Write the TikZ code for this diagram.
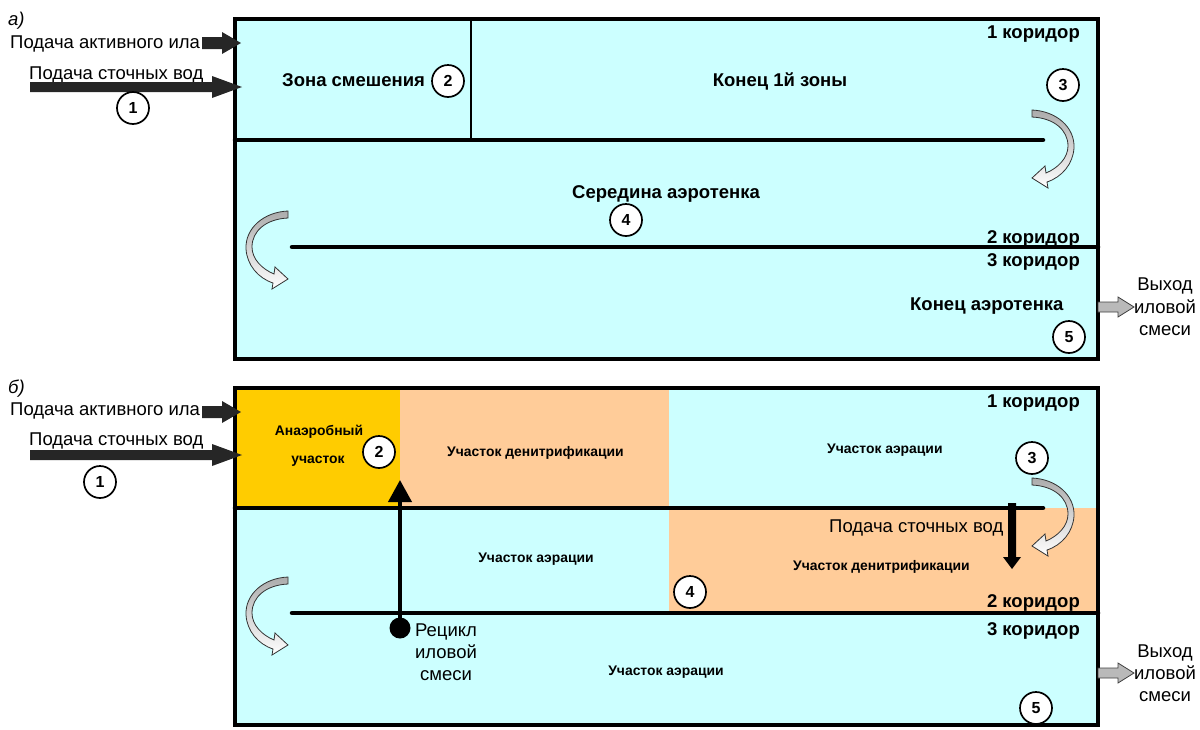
\documentclass[tikz,border=0pt]{standalone}
\usepackage{fontspec}
\setmainfont{Liberation Sans}
\usetikzlibrary{arrows.meta}
\definecolor{aqua}{HTML}{CCFFFF}
\definecolor{anaer}{HTML}{FFCC00}
\definecolor{denit}{HTML}{FFCC99}
\definecolor{dark}{HTML}{262626}
\tikzset{
 curv/.pic={
  \path[draw=black!80, line width=0.8pt, top color=gray!65, bottom color=white]
   (0,0) .. controls (24,1) and (43,17) .. (42,38)
   .. controls (41,54) and (30,67) .. (15,72)
   -- (16,78) -- (0,68) -- (13,56) -- (14,63)
   .. controls (26,58) and (36,48) .. (36,36)
   .. controls (36,20) and (22,8) .. (0,7) -- cycle;
 }
}
\begin{document}
\begin{tikzpicture}[x=1pt,y=-1pt,
 border/.style={line width=4.5pt},
 wall/.style={line width=4.5pt, line cap=round},
 divider/.style={line width=1.6pt},
 lbl/.style={font=\fontsize{18.5}{22}\selectfont, inner sep=0},
 blbl/.style={font=\bfseries\fontsize{18.5}{22}\selectfont, inner sep=0},
 slbl/.style={font=\bfseries\fontsize{13.9}{16}\selectfont, inner sep=0},
 num/.style={circle, draw, line width=1.7pt, fill=white, minimum size=32pt, inner sep=0pt, font=\bfseries\fontsize{16}{16}\selectfont},
 feed/.style={fill=dark},
 outlet/.style={fill=gray!55, draw=black!75, line width=0.8pt}
]
\useasboundingbox (0,0) rectangle (1200,729);

% ================= panel a =================
\fill[aqua] (235,19) rectangle (1098,359);
\draw[divider] (471,19) -- (471,140);
\draw[wall] (235,140) -- (1043,140);
\draw[wall] (292,247) -- (1098,247);
\draw[border] (235,19) rectangle (1098,359);

\node[lbl, anchor=base west, font=\itshape\fontsize{18.5}{22}\selectfont] (la) at (8,25) {а)};
\node[lbl, anchor=base west] (ilaA) at (10,48) {Подача активного ила};
\node[lbl, anchor=base west] (wwA) at (29,79) {Подача сточных вод};
\fill[feed] (202,37) -- (222,37) -- (222,32) -- (241,43) -- (222,54) -- (222,49) -- (202,49) -- cycle;
\fill[feed] (30,82) -- (212,82) -- (212,76) -- (242,87) -- (212,98) -- (212,92) -- (30,92) -- cycle;

\node[blbl, anchor=base east] (k1A) at (1080,38) {1 коридор};
\node[blbl, anchor=base west] (mixA) at (282,86) {Зона смешения};
\node[blbl, anchor=base] (end1A) at (780,86) {Конец 1й зоны};
\node[blbl, anchor=base west] (midA) at (572,198) {Середина аэротенка};
\node[blbl, anchor=base east] (k2A) at (1080,243) {2 коридор};
\node[blbl, anchor=base east] (k3A) at (1080,266) {3 коридор};
\node[blbl, anchor=base west] (endA) at (910,310) {Конец аэротенка};

\node[num] (n1A) at (133,108) {1};
\node[num] (n2A) at (448,81) {2};
\node[num] (n3A) at (1063,85) {3};
\node[num] (n4A) at (626,220) {4};
\node[num] (n5A) at (1069,337) {5};

\pic at (1032,110) {curv};
\pic[xscale=-1] at (288,211) {curv};

\path[outlet] (1098,302) -- (1118,302) -- (1118,297) -- (1134,307) -- (1118,317) -- (1118,312) -- (1098,312) -- cycle;
\node[lbl, anchor=base] (outA1) at (1165,290) {Выход};
\node[lbl, anchor=base] (outA2) at (1165,313) {иловой};
\node[lbl, anchor=base] (outA3) at (1165,335) {смеси};

% ================= panel b =================
\fill[aqua] (235,388) rectangle (1098,725);
\fill[anaer] (235,388) rectangle (400,508);
\fill[denit] (400,388) rectangle (669,508);
\fill[denit] (669,508) rectangle (1098,613);
\draw[wall] (235,508) -- (1043,508);
\draw[wall] (292,613) -- (1098,613);
\draw[border] (235,388) rectangle (1098,725);

\node[lbl, anchor=base west, font=\itshape\fontsize{18.5}{22}\selectfont] (lb) at (8,393) {б)};
\node[lbl, anchor=base west] (ilaB) at (10,415) {Подача активного ила};
\node[lbl, anchor=base west] (wwB) at (29,445) {Подача сточных вод};
\fill[feed] (202,406) -- (222,406) -- (222,401) -- (241,412) -- (222,423) -- (222,418) -- (202,418) -- cycle;
\fill[feed] (30,450) -- (212,450) -- (212,444) -- (242,455) -- (212,466) -- (212,460) -- (30,460) -- cycle;

\node[slbl, anchor=base] (an1) at (319,435) {Анаэробный};
\node[slbl, anchor=base] (an2) at (318,463) {участок};
\node[slbl, anchor=base west] (den1) at (447,456) {Участок денитрификации};
\node[slbl, anchor=base west] (aer1) at (827,453) {Участок аэрации};
\node[blbl, anchor=base east] (k1B) at (1080,407) {1 коридор};
\node[lbl, anchor=base west] (wwB2) at (829,532) {Подача сточных вод};
\node[slbl, anchor=base west] (den2) at (793,570) {Участок денитрификации};
\node[slbl, anchor=base] (aer2) at (536,562) {Участок аэрации};
\node[blbl, anchor=base east] (k2B) at (1080,607) {2 коридор};
\node[blbl, anchor=base east] (k3B) at (1080,635) {3 коридор};
\node[slbl, anchor=base] (aer3) at (666,675) {Участок аэрации};

\node[num] (n1B) at (100,482) {1};
\node[num] (n2B) at (379,452) {2};
\node[num] (n3B) at (1032,458) {3};
\node[num] (n4B) at (690,592) {4};
\node[num] (n5B) at (1036,708) {5};

\pic at (1032,478) {curv};
\pic[xscale=-1] at (288,577) {curv};

% recycle
\node[circle, fill=black, minimum size=21pt, inner sep=0pt] (dot) at (400,628) {};
\coordinate (recTip) at (400,480);
\draw[line width=4pt, -{Triangle[length=22pt,width=23pt]}] (dot.center) -- (recTip);
\node[lbl, anchor=base] (rc1) at (446,636) {Рецикл};
\node[lbl, anchor=base] (rc2) at (446,658) {иловой};
\node[lbl, anchor=base] (rc3) at (446,680) {смеси};

% step feed down arrow
\fill[black] (1008,503) -- (1016,503) -- (1016,557) -- (1021,557) -- (1012,569) -- (1003,557) -- (1008,557) -- cycle;

\path[outlet] (1098,668) -- (1118,668) -- (1118,663) -- (1134,673) -- (1118,683) -- (1118,678) -- (1098,678) -- cycle;
\node[lbl, anchor=base] (outB1) at (1165,657) {Выход};
\node[lbl, anchor=base] (outB2) at (1165,679) {иловой};
\node[lbl, anchor=base] (outB3) at (1165,701) {смеси};
\end{tikzpicture}
\end{document}
